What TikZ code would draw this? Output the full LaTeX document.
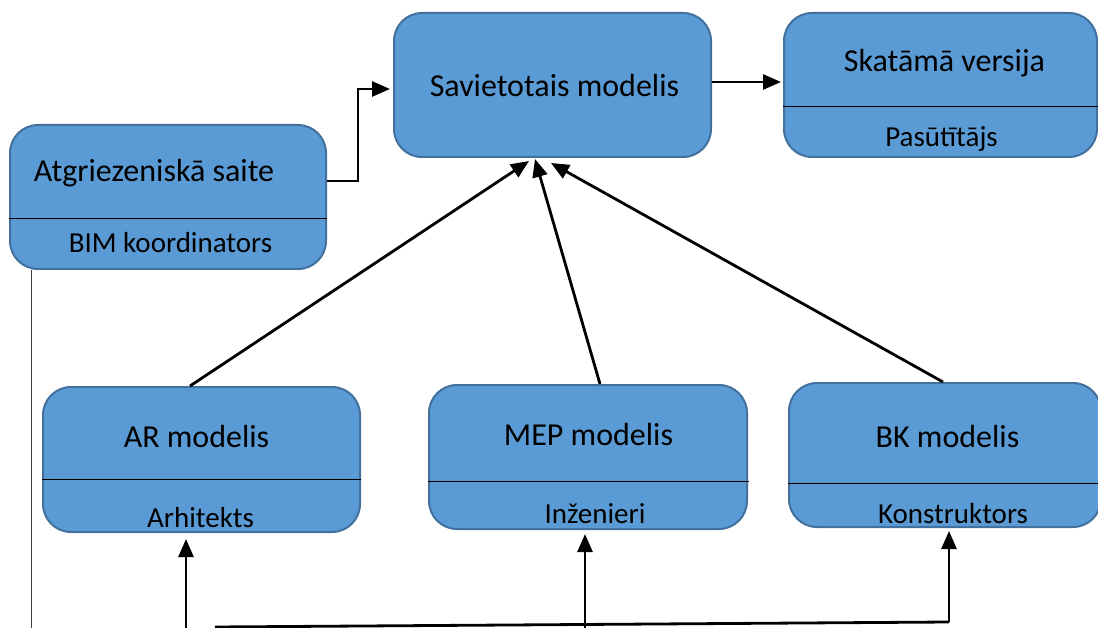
\documentclass[tikz,border=0pt]{standalone}
\usepackage{fontspec}
\setmainfont{Carlito}
\usetikzlibrary{arrows.meta}
\definecolor{boxfill}{HTML}{5B9BD5}
\definecolor{boxline}{HTML}{41719C}
\begin{document}
\begin{tikzpicture}[x=1pt,y=-1pt,
  box/.style={draw=boxline, fill=boxfill, line width=2pt, rounded corners=28pt, inner sep=0pt},
  ttl/.style={anchor=base, inner sep=0pt, font=\fontsize{32}{38}\selectfont},
  sub/.style={anchor=base, inner sep=0pt, font=\fontsize{29}{34}\selectfont},
  divider/.style={line width=1pt, black},
  conn/.style={line width=2.8pt, -{Triangle[length=18pt,width=15pt]}},
  plainline/.style={line width=2.8pt},
  thinline/.style={line width=1pt, black!75}]
\useasboundingbox (0,0) rectangle (1098,628);

% boxes
\node[box, minimum width=317pt, minimum height=144pt] (sav) at (552.5,85) {};
\node[box, minimum width=313pt, minimum height=144pt] (ska) at (940.5,85) {};
\node[box, minimum width=316pt, minimum height=144pt] (atg) at (168,197) {};
\node[box, minimum width=317pt, minimum height=145pt] (ar)  at (201.5,459.5) {};
\node[box, minimum width=318pt, minimum height=144pt] (mep) at (588,457) {};
\node[box, minimum width=312pt, minimum height=144pt] (bk)  at (945,455) {};

% dividers
\draw[divider] (ska.west |- 0,107) -- (ska.east |- 0,107);
\draw[divider] (atg.west |- 0,219) -- (atg.east |- 0,219);
\draw[divider] (ar.west |- 0,479) -- (ar.east |- 0,479);
\draw[divider] (mep.west |- 0,481) -- (749,481);
\draw[divider] (bk.west |- 0,483) -- (bk.east |- 0,483);

% texts
\node[ttl] (savT) at (554.5,97) {Savietotais modelis};
\node[ttl] (skaT) at (944.5,72) {Skatāmā versija};
\node[sub] (skaS) at (941.5,147) {Pasūtītājs};
\node[ttl] (atgT) at (154,182) {Atgriezeniskā saite};
\node[sub] (atgS) at (170.5,253) {BIM koordinators};
\node[ttl] (arT)  at (196.5,447) {AR modelis};
\node[sub] (arS)  at (200.5,527) {Arhitekts};
\node[ttl] (mepT) at (588.5,445) {MEP modelis};
\node[sub] (mepS) at (595,523) {Inženieri};
\node[ttl] (bkT)  at (947.5,447) {BK modelis};
\node[sub] (bkS)  at (953,523) {Konstruktors};

% target points on the bottom of the merged model
\coordinate (tAR)  at (529,161);
\coordinate (tMEP) at (535,159);
\coordinate (tBK)  at (551,163);

% connectors
\draw[conn, shorten >=3pt] (atg.east |- 0,181) -- (358,181) -- (358,89) -- (sav.west |- 0,89);
\draw[conn, shorten >=2pt] (sav.east |- 0,82) -- (ska.west |- 0,82);
\draw[conn] (ar.north -| 190,0) -- (tAR);
\draw[conn] (mep.north -| 600,0) -- (tMEP);
\draw[conn] (bk.north -| 943,0) -- (tBK);

% bottom distribution
\coordinate (bL) at (215,627);
\coordinate (bR) at (949,622);
\draw[thinline] (atg.south -| 31,0) -- (31,628);
\draw[plainline] (bL) -- (bR);
\draw[conn, shorten >=6pt] (186,629) -- (ar.south -| 186,0);
\draw[conn, shorten >=4pt] (585,629) -- (mep.south -| 585,0);
\draw[conn, shorten >=3pt] (bR) -- (bk.south -| 949,0);
\end{tikzpicture}
\end{document}
